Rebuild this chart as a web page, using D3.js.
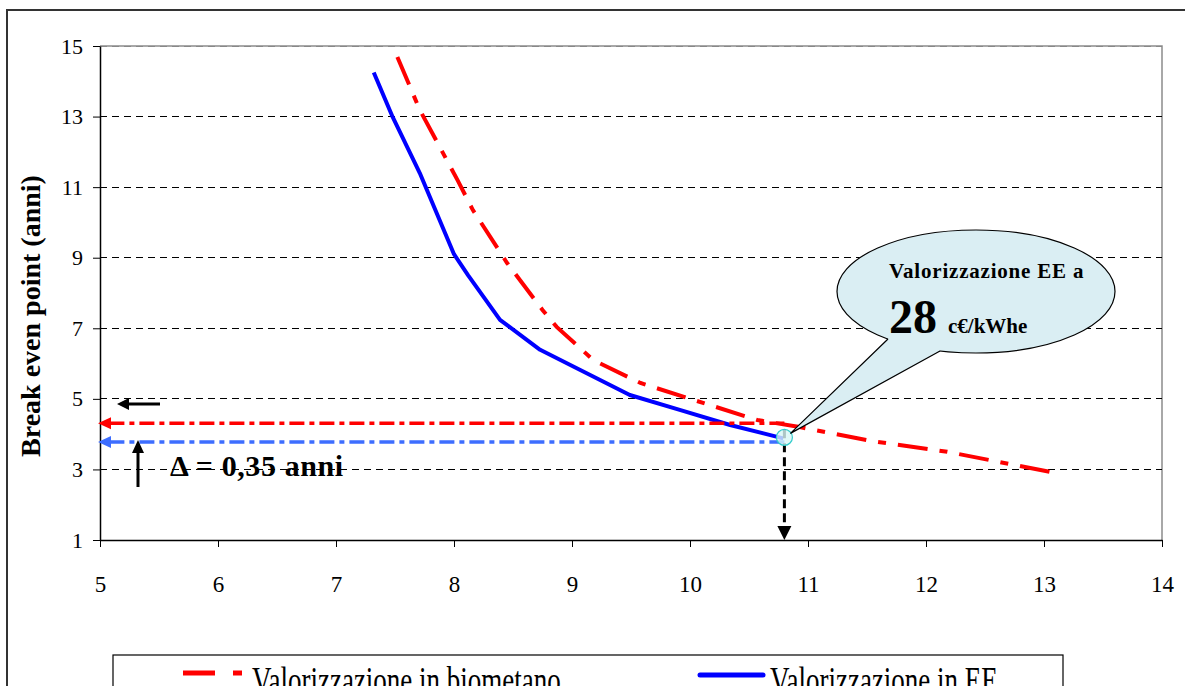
<!DOCTYPE html>
<html>
<head>
<meta charset="utf-8">
<script src="https://cdn.jsdelivr.net/npm/d3@7"></script>
<style>
  html, body { margin: 0; padding: 0; background: #fff; overflow: hidden; }
  svg { display: block; }
</style>
</head>
<body>
<svg id="chart" width="1185" height="686"></svg>
<script>
// ---- data ----
const xTicks = [5, 6, 7, 8, 9, 10, 11, 12, 13, 14];
const yTicks = [1, 3, 5, 7, 9, 11, 13, 15];

const biometanoX = [7.52, 7.71, 8.03, 8.16, 8.45, 8.75, 8.87, 9.18, 9.58, 10.03, 10.57, 10.93, 11.55, 12.18, 13.05];
const biometanoY = [14.69, 13.19, 11.2, 10.35, 8.85, 7.52, 7.04, 6.10, 5.45, 4.97, 4.40, 4.20, 3.80, 3.50, 2.93];

const eeX = [7.32, 7.48, 7.71, 8.0, 8.12, 8.39, 8.73, 9.07, 9.49, 9.92, 10.34, 10.79];
const eeY = [14.25, 12.99, 11.4, 9.1, 8.5, 7.24, 6.39, 5.82, 5.11, 4.68, 4.26, 3.88];

const refX = 10.8;          // valorizzazione EE a 28 c€/kWhe
const refBiometano = 4.31;  // break even biometano
const refEE = 3.78;         // break even EE

const seriesNames = ["Valorizzazione in biometano", "Valorizzazione in EE"];
const yTitle = "Break even point (anni)";
const deltaLabel = "Δ = 0,35 anni";
const calloutLine1 = "Valorizzazione EE a";
const calloutBig = "28";
const calloutUnit = "c€/kWhe";

// ---- layout ----
const svg = d3.select("#chart");
const serif = "'Liberation Serif', 'Times New Roman', serif";
const x = d3.scaleLinear().domain([5, 14]).range([100, 1162]);
const y = d3.scaleLinear().domain([1, 15]).range([540, 46]);

// outer frame
svg.append("rect").attr("x", 7).attr("y", 10).attr("width", 1200).attr("height", 700)
  .attr("fill", "#fff").attr("stroke", "#333").attr("stroke-width", 2);

// plot border (top/right gray)
svg.append("path")
  .attr("d", `M${x(5)},${y(15)}H${x(14)}V${y(1)}`)
  .attr("fill", "none").attr("stroke", "#8c8c8c").attr("stroke-width", 1.5);

// gridlines
svg.append("g").selectAll("line").data(yTicks.filter(d => d > 1)).join("line")
  .attr("x1", x(5)).attr("x2", x(14))
  .attr("y1", d => y(d)).attr("y2", d => y(d))
  .attr("stroke", d => d === 15 ? "#888" : "#000").attr("stroke-width", 1)
  .attr("stroke-dasharray", "7,5")
  .attr("shape-rendering", "crispEdges");

// axes
const gy = svg.append("g").attr("transform", `translate(${x(5)},0)`)
  .call(d3.axisLeft(y).tickValues(yTicks).tickSize(7).tickPadding(10).tickSizeOuter(0));
gy.select(".domain").attr("stroke", "#000").attr("stroke-width", 1.5);
gy.selectAll(".tick line").attr("stroke", "#000");
gy.selectAll(".tick text").attr("font-family", serif).attr("font-size", 22).attr("fill", "#000");

const gx = svg.append("g").attr("transform", `translate(0,${y(1)})`)
  .call(d3.axisBottom(x).tickValues(xTicks).tickSize(7).tickPadding(0).tickSizeOuter(0));
gx.select(".domain").attr("stroke", "#000").attr("stroke-width", 1.5);
gx.selectAll(".tick line").attr("stroke", "#000");
gx.selectAll(".tick text").attr("font-family", serif).attr("font-size", 23).attr("fill", "#000")
  .attr("dy", null).attr("y", 52);

// y title
svg.append("text")
  .attr("transform", "translate(40,316) rotate(-90)")
  .attr("text-anchor", "middle")
  .attr("font-family", serif).attr("font-weight", "bold").attr("font-size", 28)
  .text(yTitle);

// series lines
const line = d3.line().x(d => x(d[0])).y(d => y(d[1]));
const bioData = biometanoX.map((v, i) => [v, biometanoY[i]]);
const eeData = eeX.map((v, i) => [v, eeY[i]]);

svg.append("path").datum(eeData).attr("d", line)
  .attr("fill", "none").attr("stroke", "#0000ff").attr("stroke-width", 4)
  .attr("stroke-linejoin", "round");

// reference horizontal lines with arrows
function hArrow(val, color) {
  const yy = y(val);
  svg.append("line").attr("x1", x(refX)).attr("x2", x(5) + 10)
    .attr("y1", yy).attr("y2", yy)
    .attr("stroke", color).attr("stroke-width", 3.5)
    .attr("stroke-dasharray", "15,5,5,5");
  svg.append("path")
    .attr("d", `M${x(5) - 2},${yy}L${x(5) + 11},${yy - 6}L${x(5) + 11},${yy + 6}Z`)
    .attr("fill", color);
}
hArrow(refBiometano, "#ff0000");
hArrow(refEE, "#3d6dff");

svg.append("path").datum(bioData).attr("d", line)
  .attr("fill", "none").attr("stroke", "#ff0000").attr("stroke-width", 4)
  .attr("stroke-dasharray", "30,12,8,12");

// vertical dashed arrow down to x axis
const rx = x(refX);
svg.append("line").attr("x1", rx).attr("x2", rx)
  .attr("y1", y(refBiometano) + 6).attr("y2", y(1) - 12)
  .attr("stroke", "#000").attr("stroke-width", 3).attr("stroke-dasharray", "9,5");
svg.append("path")
  .attr("d", `M${rx},${y(1)}L${rx - 7},${y(1) - 14}L${rx + 7},${y(1) - 14}Z`)
  .attr("fill", "#000");

// marker circle
svg.append("circle").attr("cx", rx).attr("cy", y(eeY[eeY.length - 1]) - 1).attr("r", 8)
  .attr("fill", "#d8f6f6").attr("fill-opacity", 0.8).attr("stroke", "#33cccc").attr("stroke-width", 1.2);

// black arrows near y axis
svg.append("line").attr("x1", 160).attr("x2", 126).attr("y1", 404).attr("y2", 404)
  .attr("stroke", "#000").attr("stroke-width", 3);
svg.append("path").attr("d", "M117,404L129,398L129,410Z").attr("fill", "#000");
svg.append("line").attr("x1", 138).attr("x2", 138).attr("y1", 487).attr("y2", 450)
  .attr("stroke", "#000").attr("stroke-width", 3);
svg.append("path").attr("d", "M138,440L132,453L144,453Z").attr("fill", "#000");

svg.append("text").attr("x", 170).attr("y", 476)
  .attr("font-family", serif).attr("font-weight", "bold").attr("font-size", 30)
  .attr("letter-spacing", 0.6)
  .text(deltaLabel);

// callout
const cx0 = 976, cy0 = 291.5, erx = 139, ery = 61.5;
const tip = [rx + 6, y(eeY[eeY.length - 1]) - 5];
svg.append("ellipse").attr("cx", cx0).attr("cy", cy0).attr("rx", erx).attr("ry", ery)
  .attr("fill", "#daeef3").attr("stroke", "#000").attr("stroke-width", 1.2);
svg.append("path")
  .attr("d", `M${tip[0]},${tip[1]}L888,339L896,326L934,336L940,351Z`)
  .attr("fill", "#daeef3");
svg.append("path")
  .attr("d", `M888,339L${tip[0]},${tip[1]}L940,351`)
  .attr("fill", "none").attr("stroke", "#000").attr("stroke-width", 1.2);

svg.append("text").attr("x", 889).attr("y", 278)
  .attr("font-family", serif).attr("font-weight", "bold").attr("font-size", 21)
  .attr("letter-spacing", 0.8)
  .text(calloutLine1);
svg.append("text").attr("x", 889).attr("y", 333)
  .attr("font-family", serif).attr("font-weight", "bold").attr("font-size", 48)
  .text(calloutBig);
svg.append("text").attr("x", 948).attr("y", 333)
  .attr("font-family", serif).attr("font-weight", "bold").attr("font-size", 21)
  .text(calloutUnit);

// legend
svg.append("rect").attr("x", 113).attr("y", 655).attr("width", 950).attr("height", 80)
  .attr("fill", "#fff").attr("stroke", "#000").attr("stroke-width", 1.2);
svg.append("line").attr("x1", 183).attr("x2", 215).attr("y1", 673).attr("y2", 673)
  .attr("stroke", "#ff0000").attr("stroke-width", 5);
svg.append("line").attr("x1", 233).attr("x2", 242).attr("y1", 673).attr("y2", 673)
  .attr("stroke", "#ff0000").attr("stroke-width", 5);
svg.append("line").attr("x1", 700).attr("x2", 763).attr("y1", 675).attr("y2", 675)
  .attr("stroke", "#0000ff").attr("stroke-width", 5).attr("stroke-linecap", "round");
const legendX = [252, 770];
seriesNames.forEach((n, i) => {
  svg.append("text").attr("transform", `translate(${legendX[i]},693) scale(1,1.4)`)
    .attr("font-family", serif).attr("font-size", 27)
    .text(n);
});
</script>
</body>
</html>
